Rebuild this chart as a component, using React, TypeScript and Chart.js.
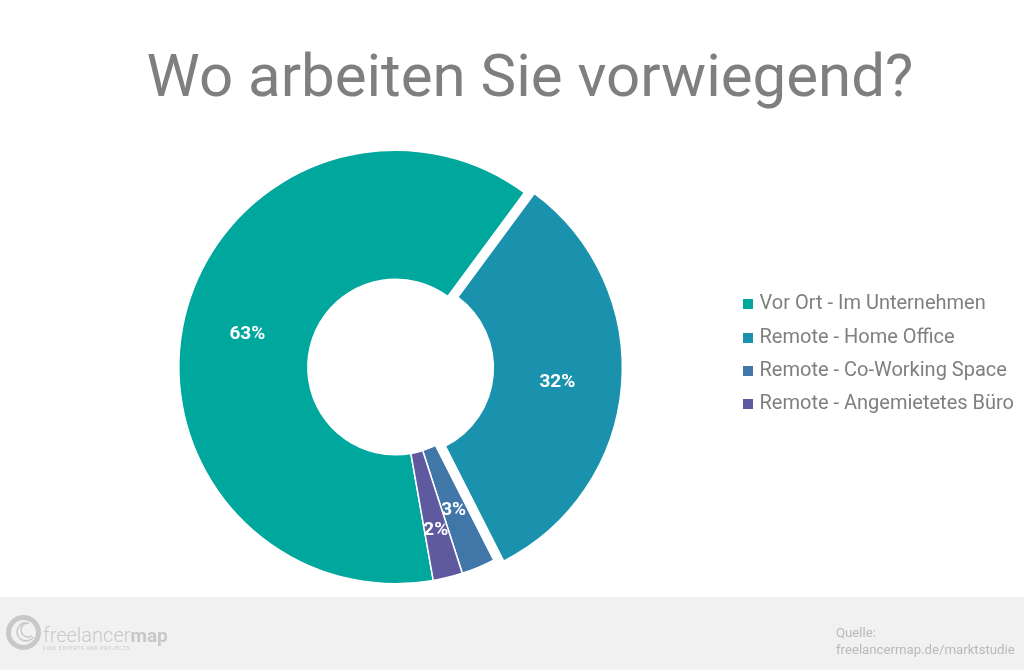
import { useEffect, useRef } from "react"
import { Chart, registerables } from "chart.js"

Chart.register(...registerables)

const categories = ["Vor Ort - Im Unternehmen", "Remote - Home Office", "Remote - Co-Working Space", "Remote - Angemietetes Büro"]
const shares = [62.9, 32.4, 2.5, 2.2]
const colors = ["#00a79d", "#1a92ae", "#4176a9", "#5f59a0"]
const explode = [0, 10, 0, 0]
// the small labels sit further out than the middle of their slice
const labelPush = [0, 0, 0, 14]

const FONT = "Roboto"

// square legend marker, the built in rect can't be wider than the gap it reserves
function swatch(color: string) {
  const c = document.createElement("canvas")
  c.width = 10
  c.height = 10
  const ctx = c.getContext("2d")
  if (ctx) {
    ctx.fillStyle = color
    ctx.fillRect(0, 0, 10, 10)
  }
  return c
}

// pulls the marked slices out of the ring, chart.js "offset" only grows big arcs
const explodePlugin = {
  id: "explode",
  afterDatasetsUpdate(chart: any) {
    chart.getDatasetMeta(0).data.forEach((arc: any, i: number) => {
      const mid = (arc.startAngle + arc.endAngle) / 2
      arc.x += Math.cos(mid) * explode[i]
      arc.y += Math.sin(mid) * explode[i]
    })
  },
}

const sliceLabels = {
  id: "sliceLabels",
  afterDatasetsDraw(chart: any) {
    const { ctx } = chart
    ctx.save()
    ctx.fillStyle = "#ffffff"
    ctx.font = `bold 19px ${FONT}`
    ctx.textAlign = "center"
    ctx.textBaseline = "middle"
    chart.getDatasetMeta(0).data.forEach((arc: any, i: number) => {
      const p = arc.getCenterPoint()
      const mid = (arc.startAngle + arc.endAngle) / 2
      ctx.fillText(
        Math.round(shares[i]) + "%",
        p.x + Math.cos(mid) * labelPush[i],
        p.y + Math.sin(mid) * labelPush[i] + 2
      )
    })
    ctx.restore()
  },
}

// title is centred a bit right of the canvas, legend is moved down to its place
const layoutTweaks = {
  id: "layoutTweaks",
  afterLayout(chart: any) {
    chart.titleBlock.left -= 23
    chart.legend.top += 62
    chart.legend.bottom += 62
  },
}

const footer = {
  id: "footer",
  beforeDraw(chart: any) {
    const { ctx, width, height } = chart
    ctx.save()
    ctx.fillStyle = "#f1f1f1"
    ctx.fillRect(0, 597, width, height - 597)

    // logo
    ctx.strokeStyle = "#c8c8c8"
    ctx.lineWidth = 5
    ctx.beginPath()
    ctx.arc(23.5, 632.5, 15, 0, Math.PI * 2)
    ctx.stroke()
    ctx.lineWidth = 1.5
    ctx.beginPath()
    ctx.arc(26, 632, 9, 0.6, Math.PI * 1.6)
    ctx.stroke()
    ctx.beginPath()
    ctx.arc(28, 630, 7, 1, Math.PI * 1.4)
    ctx.stroke()
    ctx.fillStyle = "#c8c8c8"
    ctx.textBaseline = "alphabetic"
    ctx.font = `300 20px ${FONT}`
    ctx.fillText("freelancer", 43, 642)
    const w = ctx.measureText("freelancer").width
    ctx.font = `bold 19px ${FONT}`
    ctx.fillText("map", 43 + w, 642)
    ctx.font = `5px ${FONT}`
    ctx.letterSpacing = "0.7px"
    ctx.fillText("FIND EXPERTS AND PROJECTS", 43, 650)
    ctx.letterSpacing = "0px"

    ctx.fillStyle = "#b9b9b9"
    ctx.font = `13.2px ${FONT}`
    ctx.fillText("Quelle:", 836, 637)
    ctx.fillText("freelancermap.de/marktstudie", 836, 654)
    ctx.restore()
  },
}

export default function App() {
  const chartRef = useRef<HTMLCanvasElement>(null)

  useEffect(() => {
    if (!chartRef.current) return
    const chart = new Chart(chartRef.current, {
      type: "doughnut",
      data: {
        labels: categories,
        datasets: [
          {
            data: shares,
            backgroundColor: colors,
            borderColor: "#ffffff",
            borderWidth: 1.5,
          },
        ],
      },
      options: {
        responsive: false,
        animation: false,
        cutout: "40.5%",
        rotation: 170,
        layout: { padding: { left: 59, right: 0, top: 0, bottom: 85.5 } },
        plugins: {
          title: {
            display: true,
            text: "Wo arbeiten Sie vorwiegend?",
            color: "#7f7f7f",
            font: { family: FONT, size: 60, weight: "normal", lineHeight: 1.2 },
            padding: { top: 45, bottom: 32.5 },
          },
          legend: {
            position: "right",
            labels: {
              color: "#7f7f7f",
              font: { family: FONT, size: 20 },
              usePointStyle: true,
              pointStyleWidth: 4,
              boxHeight: 9,
              padding: 13.3,
              generateLabels(chart: any) {
                const items = (Chart as any).overrides.doughnut.plugins.legend.labels.generateLabels(chart)
                return items.map((item: any, i: number) => ({ ...item, pointStyle: swatch(colors[i]) }))
              },
            },
          },
          tooltip: { enabled: false },
        },
      },
      plugins: [explodePlugin, sliceLabels, layoutTweaks, footer],
    })
    return () => chart.destroy()
  }, [])

  return (
    <div style={{ position: "absolute", left: 0, top: 0, width: 1024, height: 670 }}>
      <canvas ref={chartRef} width={1024} height={670} style={{ display: "block" }}></canvas>
    </div>
  )
}
